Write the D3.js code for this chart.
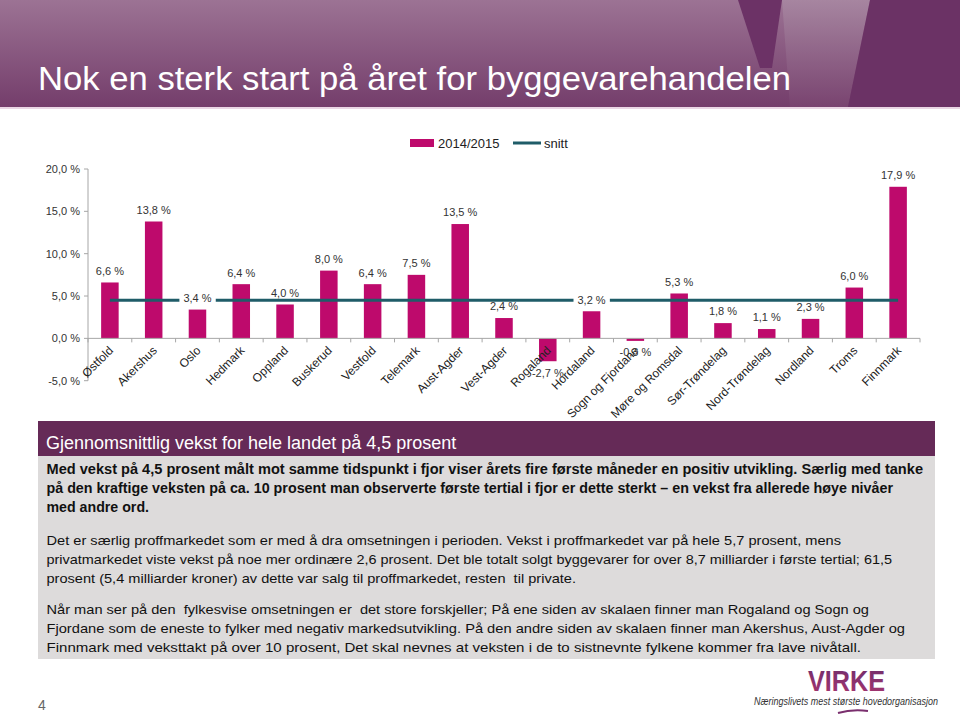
<!DOCTYPE html>
<html>
<head>
<meta charset="utf-8">
<script src="https://cdn.jsdelivr.net/npm/d3@7"></script>
<style>
html,body{margin:0;padding:0;background:#fff;}
svg{display:block;font-family:Arial,"Liberation Sans",sans-serif;}
</style>
</head>
<body>
<svg id="c" width="960" height="717"></svg>
<script>
// ---- data ----
const categories = ["Østfold","Akershus","Oslo","Hedmark","Oppland","Buskerud","Vestfold","Telemark","Aust-Agder","Vest-Agder","Rogaland","Hordaland","Sogn og Fjordane","Møre og Romsdal","Sør-Trøndelag","Nord-Trøndelag","Nordland","Troms","Finnmark"];
const growth = [6.6,13.8,3.4,6.4,4.0,8.0,6.4,7.5,13.5,2.4,-2.7,3.2,-0.3,5.3,1.8,1.1,2.3,6.0,17.9];
const snitt = 4.5;
const yTicks = [-5,0,5,10,15,20];
const seriesNames = ["2014/2015","snitt"];
const title = "Nok en sterk start på året for byggevarehandelen";
const boxHeading = "Gjennomsnittlig vekst for hele landet på 4,5 prosent";
const para1 = ["Med vekst på 4,5 prosent målt mot samme tidspunkt i fjor viser årets fire første måneder en positiv utvikling. Særlig med tanke",
"på den kraftige veksten på ca. 10 prosent man observerte første tertial i fjor er dette sterkt – en vekst fra allerede høye nivåer",
"med andre ord."];
const para2 = ["Det er særlig proffmarkedet som er med å dra omsetningen i perioden. Vekst i proffmarkedet var på hele 5,7 prosent, mens",
"privatmarkedet viste vekst på noe mer ordinære 2,6 prosent. Det ble totalt solgt byggevarer for over 8,7 milliarder i første tertial; 61,5",
"prosent (5,4 milliarder kroner) av dette var salg til proffmarkedet, resten  til private."];
const para3 = ["Når man ser på den  fylkesvise omsetningen er  det store forskjeller; På ene siden av skalaen finner man Rogaland og Sogn og",
"Fjordane som de eneste to fylker med negativ markedsutvikling. På den andre siden av skalaen finner man Akershus, Aust-Agder og",
"Finnmark med veksttakt på over 10 prosent, Det skal nevnes at veksten i de to sistnevnte fylkene kommer fra lave nivåtall."];

const fmt = v => d3.format(".1f")(v).replace("−","-").replace(".", ",") + " %";

const svg = d3.select("#c");
const defs = svg.append("defs");

// ---- header ----
const hg = defs.append("linearGradient").attr("id","hg").attr("x1",0).attr("y1",0).attr("x2",0).attr("y2",1);
hg.append("stop").attr("offset","0%").attr("stop-color","#9c7394");
hg.append("stop").attr("offset","100%").attr("stop-color","#743d6b");
svg.append("rect").attr("x",0).attr("y",0).attr("width",960).attr("height",107).attr("fill","url(#hg)");
const lg = defs.append("linearGradient").attr("id","lg").attr("x1",0).attr("y1",0).attr("x2",0).attr("y2",1);
lg.append("stop").attr("offset","0%").attr("stop-color","#a98aa3");
lg.append("stop").attr("offset","100%").attr("stop-color","#7a4571");
svg.append("path").attr("d","M782,0 L870,0 L848,107 L790,107 Z").attr("fill","url(#lg)").attr("opacity",0.8);
svg.append("path").attr("d","M738,0 L782,0 L772,68 L760,68 Z").attr("fill","#6c3266");
svg.append("path").attr("d","M870,0 L960,0 L960,107 L848,107 Z").attr("fill","#6b3265");
svg.append("rect").attr("x",0).attr("y",107).attr("width",960).attr("height",2).attr("fill","#ead6e4");
svg.append("text").attr("x",38).attr("y",90).attr("fill","#fff").attr("font-size",33)
  .attr("textLength",753).attr("lengthAdjust","spacingAndGlyphs").text(title);

// ---- legend ----
const colBar = "#be0a6c", colLine = "#1f5c68";
svg.append("rect").attr("x",410).attr("y",139).attr("width",24).attr("height",8).attr("fill",colBar);
svg.append("text").attr("x",438).attr("y",147.5).attr("font-size",13).attr("fill","#222").text(seriesNames[0]);
svg.append("line").attr("x1",513).attr("x2",541).attr("y1",143).attr("y2",143).attr("stroke",colLine).attr("stroke-width",3);
svg.append("text").attr("x",544).attr("y",147.5).attr("font-size",13).attr("fill","#222").text(seriesNames[1]);

// ---- chart ----
const x = d3.scaleBand().domain(categories).range([88,920]).paddingInner(0.6).paddingOuter(0.3);
const y = d3.scaleLinear().domain([-5,20]).range([380.7,169]);
const g = svg.append("g");

// y axis
g.append("line").attr("x1",88).attr("x2",88).attr("y1",y(20)).attr("y2",y(-5)).attr("stroke","#a6a6a6");
yTicks.forEach(t=>{
  g.append("line").attr("x1",84).attr("x2",88).attr("y1",y(t)).attr("y2",y(t)).attr("stroke","#a6a6a6");
  g.append("text").attr("x",80).attr("y",y(t)).attr("dy","0.35em").attr("text-anchor","end")
    .attr("font-size",11).attr("fill","#333").text(fmt(t));
});
// bars
g.selectAll("rect.bar").data(growth).enter().append("rect").attr("class","bar")
  .attr("x",(d,i)=>x(categories[i])).attr("width",x.bandwidth())
  .attr("y",d=>y(Math.max(0,d))).attr("height",d=>Math.abs(y(d)-y(0))).attr("fill",colBar);
// x axis
g.append("line").attr("x1",88).attr("x2",920).attr("y1",y(0)).attr("y2",y(0)).attr("stroke","#a6a6a6");
const step = x.step();
d3.range(categories.length+1).forEach(i=>{
  const xx = 88 + i*step;
  g.append("line").attr("x1",xx).attr("x2",xx).attr("y1",y(0)).attr("y2",y(0)+4).attr("stroke","#a6a6a6");
});
// snitt line
const cx = c => x(c)+x.bandwidth()/2;
g.append("line").attr("x1",cx(categories[0])).attr("x2",cx(categories[categories.length-1]))
  .attr("y1",y(snitt)).attr("y2",y(snitt)).attr("stroke",colLine).attr("stroke-width",3);
// category labels
g.selectAll("text.cat").data(categories).enter().append("text").attr("class","cat")
  .attr("transform",d=>`translate(${cx(d)+1},${y(0)+10}) rotate(-45)`)
  .attr("text-anchor","end").attr("dy","0.35em").attr("font-size",12).attr("fill","#222").text(d=>d);
// value labels
growth.forEach((d,i)=>{
  const ly = d>=0 ? y(d)-11.5 : y(d)+11.5;
  const lbl = g.append("g");
  const t = lbl.append("text").attr("x",cx(categories[i])).attr("y",ly).attr("dy","0.35em")
    .attr("text-anchor","middle").attr("font-size",11).attr("fill","#333").text(fmt(d));
  if (Math.abs(ly - y(snitt)) < 5) {
    const bb = t.node().getBBox();
    lbl.insert("rect","text").attr("x",bb.x-4).attr("y",bb.y-1).attr("width",bb.width+8).attr("height",bb.height+2).attr("fill","#fff");
  }
});

// ---- text box ----
svg.append("rect").attr("x",38).attr("y",421).attr("width",897).attr("height",35).attr("fill","#652a57");
svg.append("rect").attr("x",38).attr("y",456).attr("width",897).attr("height",203).attr("fill","#dddbdb");
svg.append("text").attr("x",46).attr("y",449).attr("font-size",18).attr("fill","#fff").text(boxHeading);
const lineEnds = [[923,893,149],[841,892,576],[869,905,861]];
function para(lines, y0, bold, ends){
  lines.forEach((l,i)=>{
    svg.append("text").attr("x",46.5).attr("y",y0+i*18.8).attr("font-size",bold?14:13.6)
      .attr("font-weight",bold?"bold":"normal").attr("fill","#111").attr("xml:space","preserve")
      .attr("textLength",ends[i]-46.5).attr("lengthAdjust","spacingAndGlyphs")
      .style("white-space","pre").text(l);
  });
}
para(para1,474,true,lineEnds[0]);
para(para2,545,false,lineEnds[1]);
para(para3,614,false,lineEnds[2]);

// ---- footer ----
svg.append("text").attr("x",38).attr("y",710).attr("font-size",14).attr("fill","#666").text("4");
const vg = defs.append("linearGradient").attr("id","vg").attr("x1",0).attr("y1",0).attr("x2",0).attr("y2",1);
vg.append("stop").attr("offset","0%").attr("stop-color","#6c2d6c");
vg.append("stop").attr("offset","100%").attr("stop-color","#a8356f");
svg.append("text").attr("x",808).attr("y",691).attr("font-size",30).attr("font-weight","bold")
  .attr("textLength",77).attr("lengthAdjust","spacingAndGlyphs").attr("fill","url(#vg)").text("VIRKE");
svg.append("text").attr("x",754).attr("y",705).attr("font-size",10).attr("font-style","italic")
  .attr("textLength",184).attr("lengthAdjust","spacingAndGlyphs").attr("fill","#333").text("Næringslivets mest største hovedorganisasjon");
svg.append("path").attr("d","M838,713 Q852,709 868,711").attr("fill","none").attr("stroke","#7a2f6e").attr("stroke-width",2);
</script>
</body>
</html>
